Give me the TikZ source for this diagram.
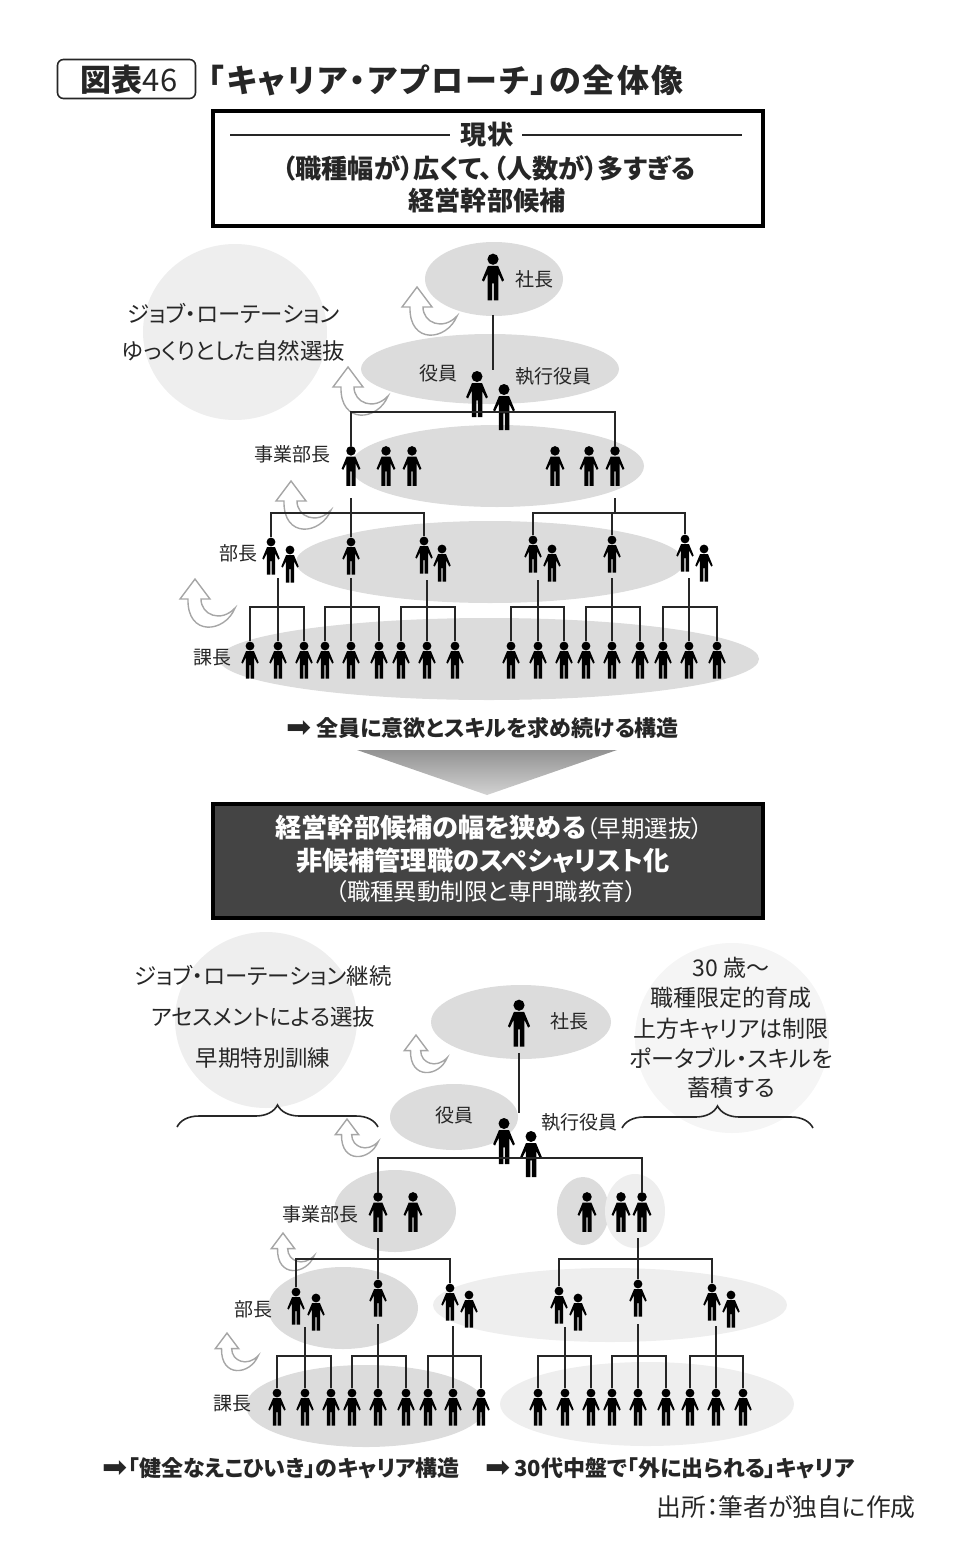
\documentclass[tikz,border=0pt]{standalone}
\usepackage{fontspec}
\setmainfont{Noto Sans CJK JP}[RawFeature=+palt]
\newfontfamily\symfont{DejaVu Sans}
\usetikzlibrary{calc,decorations.pathreplacing}

\definecolor{lay}{HTML}{DCDCDC}
\definecolor{pale}{HTML}{EEEEEE}
\definecolor{paler}{HTML}{F5F5F5}
\definecolor{ink}{HTML}{262626}
\definecolor{slate}{HTML}{444444}

\tikzset{
    link/.style={draw=ink, line width=1pt},
    lbl/.style={inner sep=0pt, text=ink, font=\fontsize{9.5}{11}\selectfont},
    note/.style={inner sep=0pt, text=ink, font=\fontsize{11.2}{13}\selectfont},
    agenote/.style={inner sep=0pt, text=ink, font=\fontsize{11.5}{14}\selectfont},
    lead/.style={inner sep=0pt, text=ink, font=\fontsize{13.1}{16}\bfseries\selectfont},
    concl/.style={inner sep=0pt, text=ink, font=\fontsize{11}{13}\bfseries\selectfont},
    banner/.style={draw=black, line width=2pt, minimum width=275pt, minimum height=57pt},
    brace/.style={draw=ink, line width=.8pt, decorate, decoration={brace, amplitude=11, aspect=.5}},
    climb/.style={draw=gray!70, fill=white, line width=.7pt}
}

% Figure of a person, the node keeps the name for the connectors
\newcommand{\person}[4][1]{
    \begin{scope}[shift={(#3,#4)}, scale=#1]
        \fill[black] (0,-14) circle (4.4);
        \fill[black, line join=round] (-4,-8.8) -- (4,-8.8) -- (8.7,2.5) -- (7.2,3.6) -- (4.2,-2.5) -- (4.2,18.5)
            -- (.6,18.5) -- (.6,5) -- (-.6,5) -- (-.6,18.5) -- (-4.2,18.5) -- (-4.2,-2.5)
            -- (-7.2,3.6) -- (-8.7,2.5) -- cycle;
        \node[inner sep=0pt, minimum width=#1*8.5pt, minimum height=#1*18.5pt] (#2) at (0,0) {};
    \end{scope}
}

% Curved arrow, from its tip
\newcommand{\climbing}[3][1]{
    \draw[climb, shift={(#2,#3)}, scale=#1] (0,0) -- (15,20) -- (6,20)
        .. controls (6,36) and (26,44) .. (40,29)
        .. controls (30,54) and (-8,58) .. (-7,20) -- (-15,20) -- cycle;
}

% Bar over three persons, with the stem of the middle one
\newcommand{\branch}[5]{
    \draw[link] (#1.north) |- (#2.north |- 0,#4) -| (#3.north);
    \draw[link] (#2.north |- 0,#5) -- (#2.north);
}

% Heavy arrow in front of a closing line
\newcommand{\lead}{{\symfont\mdseries\fontsize{15}{15}\selectfont\raisebox{-.6pt}{➡}}}

\begin{document}
\begin{tikzpicture}[x=.5pt, y=-.5pt]
    \useasboundingbox (0,0) rectangle (954,1552);

    % Titolo
    \node[draw=ink, line width=.8pt, rounded corners=3pt, minimum width=69pt, minimum height=19.5pt] (tag) at (126.5,79) {};
    \node[inner sep=0pt, text=ink, font=\fontsize{15.5}{18}\selectfont] (tagt) at (129,80) {\textbf{図表}46};
    \node[anchor=west, inner sep=0pt, text=ink, font=\fontsize{16}{19}\bfseries\selectfont\addfontfeature{LetterSpace=6.8}] (title) at (208,80) {「キャリア・アプローチ」の全体像};

    % Riquadro in alto
    \node[banner] (now) at (487.5,168.5) {};
    \node[lead] (nowa) at (487,135) {現状};
    \draw[draw=ink, line width=.7pt] (230,135) -- (450,135);
    \draw[draw=ink, line width=.7pt] (522,135) -- (742,135);
    \node[lead] (nowb) at (489,168) {（職種幅が）広くて、（人数が）多すぎる};
    \node[lead] (nowc) at (487,201) {経営幹部候補};

    % Sfondi, primo organigramma
    \fill[pale] (235,332) ellipse [x radius=92, y radius=88];
    \fill[lay] (494,279) ellipse [x radius=69, y radius=37];
    \fill[lay] (490,369) ellipse [x radius=129, y radius=35];
    \fill[lay] (497,466) ellipse [x radius=147, y radius=41];
    \fill[lay] (490,562) ellipse [x radius=194, y radius=41];
    \fill[lay] (489,659) ellipse [x radius=270, y radius=41];

    \node[note] (joba) at (233.5,314) {ジョブ・ローテーション};
    \node[note] (jobb) at (233.5,351) {ゆっくりとした自然選抜};

    \climbing{417}{287}
    \climbing{348}{367}
    \climbing{291}{481}
    \climbing{195}{579}

    % Persone
    \person[1.27]{pres}{493}{277}
    \person[1.25]{offa}{477}{394}
    \person[1.25]{offb}{504}{407}

    \person[1.08]{diva}{351}{466} \person[1.08]{divb}{386}{466} \person[1.08]{divc}{412}{466}
    \person[1.08]{divd}{555}{466} \person[1.08]{dive}{589}{466} \person[1.08]{divf}{615}{466}

    \person{depa}{271}{556} \person{depb}{290}{564} \person{depc}{351}{556}
    \person{depd}{424}{555} \person{depe}{442}{563}
    \person{depf}{533}{554} \person{depg}{552}{563} \person{deph}{612}{554}
    \person{depi}{685}{553} \person{depj}{704}{563}

    \person{seca}{250}{660} \person{secb}{278}{660} \person{secc}{304}{660}
    \person{secd}{325}{660} \person{sece}{351}{660} \person{secf}{379}{660}
    \person{secg}{401}{660} \person{sech}{427}{660} \person{seci}{455}{660}
    \person{secj}{511}{660} \person{seck}{538}{660} \person{secl}{564}{660}
    \person{secm}{586}{660} \person{secn}{612}{660} \person{seco}{640}{660}
    \person{secp}{663}{660} \person{secq}{689}{660} \person{secr}{717}{660}

    % Etichette
    \node[lbl] (lpres) at (534,279) {社長};
    \node[lbl] (loff) at (438,373) {役員};
    \node[lbl] (lexe) at (553,376) {執行役員};
    \node[lbl] (ldiv) at (292,454) {事業部長};
    \node[lbl] (ldep) at (238,553) {部長};
    \node[lbl] (lsec) at (212,658) {課長};

    % Collegamenti
    \draw[link, shorten <=7pt] (pres.south) -- (pres.south |- offa.north);
    \draw[link] (diva.north) |- (divf.north |- 0,412) -- (divf.north);
    \draw[link] (diva.south |- 0,498) -- (depc.north);
    \draw[link] (depa.north) |- (depc.north |- 0,513) -| (depd.north);
    \draw[link] (divf.south |- 0,498) -- (divf.south |- 0,513);
    \draw[link] (depf.north) |- (deph.north |- 0,513) -| (depi.north);
    \draw[link] (deph.north |- 0,513) -- (deph.north);
    \branch{seca}{secb}{secc}{607}{578}
    \branch{secd}{sece}{secf}{607}{578}
    \branch{secg}{sech}{seci}{607}{580}
    \branch{secj}{seck}{secl}{607}{580}
    \branch{secm}{secn}{seco}{607}{578}
    \branch{secp}{secq}{secr}{607}{578}

    % Passaggio
    \node[concl, anchor=west] (resa) at (286,728) {\lead\hspace{2.5pt}全員に意欲とスキルを求め続ける構造};
    \shade[top color=gray!85, bottom color=gray!35] (357,750) -- (617,750) -- (487,795) -- cycle;

    % Riquadro scuro
    \node[banner, fill=slate] (plan) at (487.5,860.5) {};
    \node[lead, text=white, anchor=west] (plana) at (275,828) {経営幹部候補の幅を狭める{\mdseries\fontsize{11.7}{13}\selectfont（早期選抜）}};
    \node[lead, text=white] (planb) at (483,861) {非候補管理職のスペシャリスト化};
    \node[inner sep=0pt, text=white, font=\fontsize{11.7}{14}\selectfont] (planc) at (486,892) {（職種異動制限と専門職教育）};

    % Sfondi, secondo organigramma
    \fill[pale] (266,1020) ellipse [x radius=91, y radius=88];
    \fill[paler] (732,1038) ellipse [x radius=97, y radius=95];
    \fill[lay] (521,1022) ellipse [x radius=90, y radius=37];
    \fill[lay] (454,1117) ellipse [x radius=64, y radius=33];
    \fill[lay] (395,1211) ellipse [x radius=61, y radius=41];
    \fill[lay] (583,1211) ellipse [x radius=26, y radius=34];
    \fill[pale] (635,1211) ellipse [x radius=30, y radius=37];
    \fill[lay] (343,1308) ellipse [x radius=75, y radius=41];
    \fill[pale] (610,1305) ellipse [x radius=177, y radius=37];
    \fill[lay] (366,1406) ellipse [x radius=120, y radius=41];
    \fill[pale] (647,1404) ellipse [x radius=147, y radius=42];

    \node[note] (conta) at (263,976) {ジョブ・ローテーション継続};
    \node[note] (contb) at (263,1017) {アセスメントによる選抜};
    \node[note] (contc) at (263,1058) {早期特別訓練};

    \node[agenote] (agea) at (731,968) {30 歳～};
    \node[agenote] (ageb) at (731,998) {職種限定的育成};
    \node[agenote] (agec) at (731,1029) {上方キャリアは制限};
    \node[agenote] (aged) at (731,1058) {ポータブル・スキルを};
    \node[agenote] (agee) at (731,1088) {蓄積する};

    % Graffe
    \draw[brace] (177,1127) -- (378,1127);
    \draw[brace] (622,1128) -- (813,1128);

    \climbing[.78]{416}{1035}
    \climbing[.78]{347}{1119}
    \climbing[.78]{283}{1233}
    \climbing[.78]{227}{1333}

    % Persone
    \person[1.27]{prest}{519}{1023}
    \person[1.25]{offc}{504}{1141}
    \person[1.25]{offd}{531}{1154}

    \person[1.08]{divg}{378}{1212} \person[1.08]{divh}{413}{1212}
    \person[1.08]{divi}{587}{1212} \person[1.08]{divj}{621}{1212} \person[1.08]{divk}{642}{1212}

    \person{depk}{296}{1306} \person{depl}{316}{1312} \person{depm}{378}{1298}
    \person{depn}{450}{1302} \person{depo}{469}{1309}
    \person{depp}{559}{1305} \person{depq}{578}{1312} \person{depr}{638}{1298}
    \person{deps}{712}{1302} \person{dept}{731}{1309}

    \person{sest}{277}{1407} \person{sesb}{305}{1407} \person{sesc}{331}{1407}
    \person{sesd}{352}{1407} \person{sese}{378}{1407} \person{sesf}{406}{1407}
    \person{sesg}{428}{1407} \person{sesh}{453}{1407} \person{sesi}{481}{1407}
    \person{sesj}{538}{1407} \person{sesk}{565}{1407} \person{sesl}{591}{1407}
    \person{sesm}{612}{1407} \person{sesn}{638}{1407} \person{seso}{666}{1407}
    \person{sesp}{690}{1407} \person{sesq}{716}{1407} \person{sesr}{743}{1407}

    % Etichette
    \node[lbl] (lprest) at (569,1021) {社長};
    \node[lbl] (lofft) at (454,1115) {役員};
    \node[lbl] (lexet) at (579,1122) {執行役員};
    \node[lbl] (ldivt) at (320,1214) {事業部長};
    \node[lbl] (ldept) at (253,1309) {部長};
    \node[lbl] (lsect) at (232,1404) {課長};

    % Collegamenti
    \draw[link, shorten <=3pt] (prest.south) -- (prest.south |- 0,1113);
    \draw[link] (divg.north) |- (divk.north |- 0,1158) -- (divk.north);
    \draw[link] (divg.south |- 0,1238) -- (depm.north);
    \draw[link] (depk.north) |- (depm.north |- 0,1259) -| (depn.north);
    \draw[link] (depp.north) |- (depr.north |- 0,1259) -| (deps.north);
    \draw[link] (depr.north |- 0,1238) -- (depr.north);
    \branch{sest}{sesb}{sesc}{1356}{1327}
    \branch{sesd}{sese}{sesf}{1356}{1324}
    \branch{sesg}{sesh}{sesi}{1356}{1326}
    \branch{sesj}{sesk}{sesl}{1356}{1327}
    \branch{sesm}{sesn}{seso}{1356}{1324}
    \branch{sesp}{sesq}{sesr}{1356}{1326}

    % Conclusioni
    \node[concl, anchor=west] (resb) at (102,1468) {\lead\hspace{.5pt}「健全なえこひいき」のキャリア構造};
    \node[concl, anchor=west] (resc) at (485,1468) {\lead\hspace{2pt}30代中盤で「外に出られる」キャリア};
    \node[anchor=east, inner sep=0pt, text=ink, font=\fontsize{12.4}{15}\selectfont] (src) at (916,1507) {出所：筆者が独自に作成};

\end{tikzpicture}
\end{document}
